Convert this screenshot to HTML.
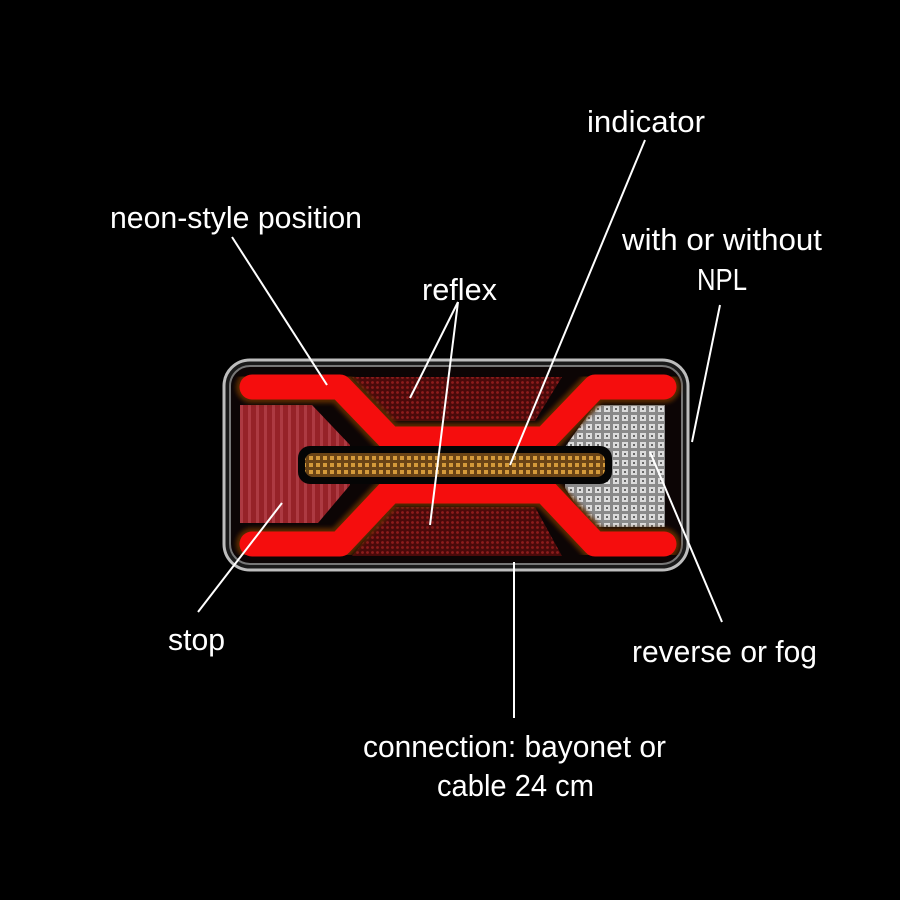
<!DOCTYPE html>
<html><head><style>html,body{margin:0;padding:0;background:#000}svg{display:block}</style></head>
<body>
<svg width="900" height="900" viewBox="0 0 900 900" xmlns="http://www.w3.org/2000/svg">
<defs>
<filter id="glow" x="-20%" y="-20%" width="140%" height="140%"><feGaussianBlur stdDeviation="2"/></filter>
<pattern id="dots" width="5" height="5" patternUnits="userSpaceOnUse"><rect width="5" height="5" fill="#4a0a0a"/><circle cx="2.5" cy="2.5" r="1.4" fill="#8e1c1c"/></pattern>
<pattern id="stripes" width="8" height="8" patternUnits="userSpaceOnUse"><rect width="8" height="8" fill="#962228"/><rect width="3" height="8" fill="#ad3a42"/></pattern>
<pattern id="amb" width="7" height="7" patternUnits="userSpaceOnUse"><rect width="7" height="7" fill="#6a4416"/><rect x="1" y="1" width="4" height="4" fill="#d49a3a"/></pattern>
<pattern id="wht" width="9" height="9" patternUnits="userSpaceOnUse"><rect width="9" height="9" fill="#8a8a8a"/><rect x="1" y="1" width="6" height="6" fill="#dcdcdc"/><rect x="3" y="3" width="2" height="2" fill="#666"/></pattern>
</defs>
<rect x="224" y="360" width="464" height="210" rx="26" fill="#1a1a1a" stroke="#bdbdbd" stroke-width="3"/>
<rect x="230" y="366" width="452" height="198" rx="20" fill="#0c0505" stroke="#777" stroke-width="2"/>
<polygon points="240,405 312,405 350,445 350,485 318,523 240,523" fill="url(#stripes)"/>
<polygon points="352,377 562,377 535,421 392,421" fill="url(#dots)"/>
<polygon points="392,507 535,507 562,556 352,556" fill="url(#dots)"/>
<polygon points="565,447 595,405 665,405 665,527 590,527 565,488" fill="url(#wht)"/>
<g fill="none" stroke-linecap="round" stroke-linejoin="round">
<polyline points="252,387 340,387 390,439 545,439 595,387 664,387" stroke="#5a2a00" stroke-width="32" filter="url(#glow)"/>
<polyline points="252,544 340,544 390,491 545,491 595,544 664,544" stroke="#5a2a00" stroke-width="32" filter="url(#glow)"/>
<polyline points="252,387 340,387 390,439 545,439 595,387 664,387" stroke="#f50d0d" stroke-width="25"/>
<polyline points="252,544 340,544 390,491 545,491 595,544 664,544" stroke="#f50d0d" stroke-width="25"/>
</g>
<rect x="298" y="446" width="314" height="38" rx="12" fill="#050505"/>
<rect x="305" y="453" width="300" height="24" rx="8" fill="url(#amb)"/>
<g stroke="#fff" stroke-width="2" fill="none">
<line x1="232" y1="237" x2="327" y2="385"/>
<line x1="458" y1="302" x2="410" y2="398"/>
<line x1="458" y1="302" x2="430" y2="525"/>
<line x1="645" y1="140" x2="510" y2="465"/>
<line x1="720" y1="305" x2="692" y2="442"/>
<line x1="650" y1="452" x2="722" y2="622"/>
<line x1="514" y1="562" x2="514" y2="718"/>
<line x1="282" y1="503" x2="198" y2="612"/>
</g>
<g fill="#fff" font-family="Liberation Sans, sans-serif" font-size="31">
<text x="587" y="132" textLength="118" lengthAdjust="spacingAndGlyphs">indicator</text>
<text x="110" y="228" textLength="252" lengthAdjust="spacingAndGlyphs">neon-style position</text>
<text x="622" y="250" textLength="200" lengthAdjust="spacingAndGlyphs">with or without</text>
<text x="697" y="290" textLength="50" lengthAdjust="spacingAndGlyphs">NPL</text>
<text x="422" y="300" textLength="75" lengthAdjust="spacingAndGlyphs">reflex</text>
<text x="168" y="650" textLength="57" lengthAdjust="spacingAndGlyphs">stop</text>
<text x="632" y="662" textLength="185" lengthAdjust="spacingAndGlyphs">reverse or fog</text>
<text x="363" y="757" textLength="303" lengthAdjust="spacingAndGlyphs">connection: bayonet or</text>
<text x="437" y="796" textLength="157" lengthAdjust="spacingAndGlyphs">cable 24 cm</text>
</g>
</svg>
</body></html>
